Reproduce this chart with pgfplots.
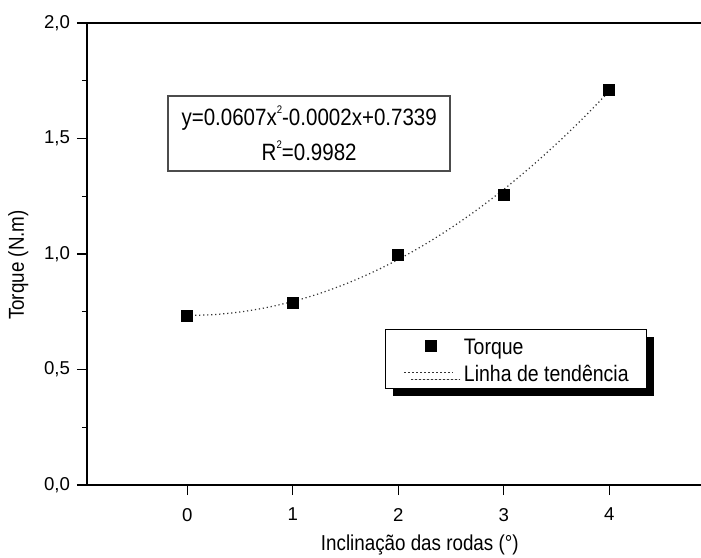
\documentclass[border=0pt]{standalone}
\usepackage{fontspec}
\setmainfont{Liberation Sans}[FakeStretch=0.87]
\newfontfamily\tickfont{Liberation Sans}
\usepackage{pgfplots}
\pgfplotsset{compat=1.18}
\usetikzlibrary{shadows}
\pgfplotsset{
  marklegend/.style={legend image code/.code={\draw[mark repeat=3, mark phase=2, ##1] plot coordinates {(0pt,0pt)(13.5pt,0pt)(24.5pt,0pt)};}},
  linelegend/.style={legend image code/.code={\draw[##1] (0pt,0pt) -- (24.5pt,0pt);}},
}
\newcommand{\sq}{\raisebox{6pt}{\fontsize{5.5}{5.5}\selectfont 2}}
\begin{document}
\begin{tikzpicture}
\begin{axis}[
  at={(0,0)}, anchor=south west,
  width=307pt, height=231pt, scale only axis,
  xmin=-0.95, xmax=4.87, ymin=0, ymax=2,
  axis lines*=left,
  axis line style={line width=0.6pt},
  tick align=outside,
  xtick={0,1,2,3,4}, ytick={0,0.5,1,1.5,2},
  minor y tick num=1,
  major tick length=5pt, minor tick length=2.5pt,
  tick style={black, line width=0.6pt},
  /pgf/number format/assume math mode=true,
  ticklabel style={font=\tickfont\fontsize{9.3}{10}\selectfont},
  y tick label style={/pgf/number format/.cd, fixed, fixed zerofill, precision=1, use comma},
  x tick label style={yshift=-3pt},
  xlabel={Inclinação das rodas (°)},
  ylabel={Torque (N.m)},
  label style={font=\fontsize{10.8}{12}\selectfont},
  xlabel style={at={(axis description cs:0.542,-0.13)}, anchor=center},
  ylabel style={at={(axis description cs:-0.112,0.476)}, anchor=center},
  legend cell align=left,
  legend style={at={(axis cs:1.877,0.675)}, anchor=north west,
    draw=black, line width=0.5pt, fill=white,
    font=\fontsize{11.2}{12}\selectfont,
    inner xsep=9pt, inner ysep=1.25pt, row sep=0pt,
    nodes={inner xsep=0pt, inner ysep=0pt, text height=11pt, text depth=2.5pt},
    /tikz/every odd column/.append style={column sep=5pt},
    general shadow={fill=black, shadow xshift=3.5pt, shadow yshift=-3.5pt}},
]
\addplot[only marks, mark=square*, mark size=2.75pt, black, marklegend]
  coordinates {(0,0.733) (1,0.790) (2,0.997) (3,1.255) (4,1.712)};
\addlegendentry{Torque}
\addplot[black!80, line width=0.6pt, dash pattern=on 0.6pt off 1.4pt, smooth, no marks, linelegend]
  coordinates {(0,0.7339) (0.25,0.73764) (0.5,0.74898) (0.75,0.76789) (1,0.7944)
    (1.25,0.82849) (1.5,0.87018) (1.75,0.91944) (2,0.9763) (2.25,1.04074)
    (2.5,1.11278) (2.75,1.19239) (3,1.2796) (3.25,1.37439) (3.5,1.47678)
    (3.75,1.58674) (4,1.7043)};
\addlegendentry{Linha de tendência}
\draw[line width=0.6pt] (rel axis cs:0,1) -- (rel axis cs:1,1);
\node[draw=black!70, line width=0.7pt, fill=white, minimum width=141pt, minimum height=37.5pt,
  align=center, font=\fontsize{11.8}{17.75}\selectfont, inner sep=0pt]
  at (axis cs:1.156,1.522) {y=0.0607x\sq-0.0002x+0.7339\\R\sq=0.9982};
\end{axis}
\pgfresetboundingbox
\useasboundingbox (-43.5pt,-36pt) rectangle (307pt,242.5pt);
\end{tikzpicture}
\end{document}
